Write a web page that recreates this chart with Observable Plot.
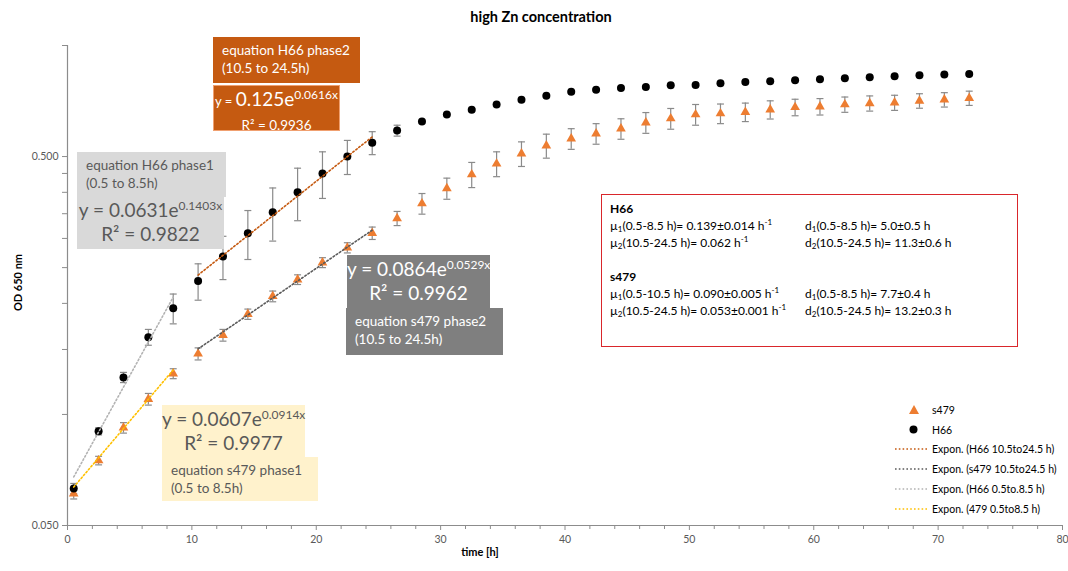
<!DOCTYPE html>
<html><head><meta charset="utf-8">
<script src="https://cdn.jsdelivr.net/npm/d3@7"></script>
<script src="https://cdn.jsdelivr.net/npm/@observablehq/plot@0.6"></script>
<style>
body{margin:0;background:#fff;font-family:Lato,"Open Sans",sans-serif;}
#wrap{position:relative;width:1068px;height:571px;overflow:hidden;}
#wrap > svg{position:absolute;left:0;top:0;}
.ov{position:absolute;box-sizing:border-box;white-space:nowrap;}
.small{font-size:13.5px;line-height:18px;padding:4px 0 0 9px;}
.eq{font-size:19px;line-height:24px;text-align:center;padding-top:2px;}
.eq sup{font-size:12px;vertical-align:7px;line-height:0;}
.red{border:1.5px solid #d9262b;font-size:12px;line-height:17px;color:#000;padding:5px 0 0 8px;}
.red table{border-collapse:collapse;}
.red td{padding:0;height:17px;}
.red sub{font-size:8px;vertical-align:-2px;line-height:0;}
.red sup{font-size:8px;vertical-align:5px;line-height:0;}
.leg{font-size:10.5px;color:#000;}
.leg div{height:19.8px;display:flex;align-items:center;}
.leg svg{display:block;flex:none;}
</style></head><body><div id="wrap"></div>
<script>
// ---- data ----
const times = [0.5,2.5,4.5,6.5,8.5,10.5,12.5,14.5,16.5,18.5,20.5,22.5,24.5,26.5,28.5,30.5,32.5,34.5,36.5,38.5,40.5,42.5,44.5,46.5,48.5,50.5,52.5,54.5,56.5,58.5,60.5,62.5,64.5,66.5,68.5,70.5,72.5];
const h66 = [0.063,0.090,0.126,0.162,0.194,0.230,0.268,0.310,0.353,0.400,0.450,0.500,0.545,0.588,0.622,0.650,0.670,0.692,0.713,0.731,0.749,0.759,0.767,0.772,0.780,0.782,0.790,0.796,0.800,0.805,0.810,0.815,0.820,0.825,0.830,0.835,0.837];
const h66Err = [0.002,0.002,0.004,0.008,0.018,0.026,0.036,0.047,0.058,0.065,0.065,0.053,0.039,0.020,0.005,0.004,0.004,0.004,0.004,0.004,0.004,0.004,0.004,0.004,0.004,0.004,0.004,0.004,0.004,0.004,0.004,0.004,0.004,0.004,0.004,0.004,0.004];
const s479 = [0.061,0.075,0.092,0.110,0.129,0.146,0.164,0.187,0.209,0.232,0.258,0.283,0.310,0.340,0.373,0.410,0.447,0.478,0.509,0.535,0.559,0.577,0.595,0.618,0.634,0.650,0.654,0.660,0.670,0.680,0.683,0.692,0.697,0.700,0.708,0.713,0.720];
const s479Err = [0.002,0.002,0.003,0.004,0.004,0.0055,0.006,0.006,0.007,0.007,0.008,0.009,0.012,0.015,0.024,0.027,0.035,0.037,0.039,0.040,0.036,0.037,0.038,0.040,0.041,0.042,0.040,0.038,0.038,0.035,0.035,0.033,0.033,0.033,0.032,0.032,0.032];

// exponential trendlines y = a*e^(b*x) as printed in the chart
const fitNames = ["Expon. (H66 10.5to24.5 h)","Expon. (s479 10.5to24.5 h)","Expon. (H66 0.5to.8.5 h)","Expon. (479 0.5to8.5 h)"];
const fitA = [0.125,0.0864,0.0631,0.0607];
const fitB = [0.0616,0.0529,0.1403,0.0914];
const fitFrom = [10.5,10.5,0.5,0.5];
const fitTo = [24.5,24.5,8.5,8.5];
const fitColors = ["#c55a11","#595959","#b3b3b3","#ffc000"];

const xMajor = [0,10,20,30,40,50,60,70,80];
const xMinor = [2,4,6,8,12,14,16,18,22,24,26,28,32,34,36,38,42,44,46,48,52,54,56,58,62,64,66,68,72,74,76,78];
const yMajor = [0.05,0.5];
const yMinor = [0.1,0.15,0.2,0.25,0.3,0.35,0.4,0.45,1.0];

// ---- tables ----
const rows = [];
times.forEach((t,i)=>{
  rows.push({series:"H66", t, v:h66[i], e:h66Err[i]});
  rows.push({series:"s479", t, v:s479[i], e:s479Err[i]});
});
const fitRows = [];
fitA.forEach((a,k)=>{
  const n = 8;
  for(let j=0;j<=n;j++){
    const x = fitFrom[k] + (fitTo[k]-fitFrom[k])*j/n;
    fitRows.push({k, x, y:a*Math.exp(fitB[k]*x)});
  }
});

const axisCol = "#8c8c8c";
const chart = Plot.plot({
  width:1068, height:571,
  marginLeft:67, marginRight:6, marginTop:45, marginBottom:46,
  style:{fontFamily:"Lato, 'Open Sans', sans-serif", fontSize:"10.5px", color:"#595959", background:"transparent", overflow:"visible"},
  x:{domain:[0,80]},
  y:{type:"log", domain:[0.05,1]},
  marks:[
    Plot.axisX({ticks:xMinor, tickSize:4, tickFormat:()=>"", label:null, stroke:axisCol}),
    Plot.axisX({ticks:xMajor, tickSize:5, tickPadding:5, label:null, stroke:axisCol}),
    Plot.axisY({ticks:yMinor, tickSize:5, tickFormat:()=>"", label:null, stroke:axisCol}),
    Plot.axisY({ticks:yMajor, tickSize:5, tickPadding:4, tickFormat:d3.format(".3f"), label:null, stroke:axisCol}),
    Plot.ruleX([0], {stroke:axisCol, strokeWidth:1.2}),
    Plot.ruleY([0.05], {stroke:axisCol, strokeWidth:1.2}),
    Plot.ruleX(rows, {x:"t", y1:d=>d.v-d.e, y2:d=>d.v+d.e, stroke:"#8a8a8a", strokeWidth:1.2}),
    Plot.link(rows, {x1:d=>d.t-0.28, x2:d=>d.t+0.28, y1:d=>d.v+d.e, y2:d=>d.v+d.e, stroke:"#8a8a8a", strokeWidth:1.2}),
    Plot.link(rows, {x1:d=>d.t-0.28, x2:d=>d.t+0.28, y1:d=>d.v-d.e, y2:d=>d.v-d.e, stroke:"#8a8a8a", strokeWidth:1.2}),
    Plot.dot(rows.filter(d=>d.series==="s479"), {x:"t", y:"v", symbol:"triangle", r:3.6, fill:"#ed7d31", stroke:"none"}),
    Plot.dot(rows.filter(d=>d.series==="H66"), {x:"t", y:"v", r:4, fill:"#000", stroke:"none"}),
    Plot.line(fitRows, {x:"x", y:"y", z:"k", stroke:d=>fitColors[d.k], strokeWidth:1.6, strokeDasharray:"1.6,2.2"})
  ]
});
const wrap = document.getElementById("wrap");
wrap.appendChild(chart);

function add(html, style, cls){
  const d = document.createElement("div");
  d.className = "ov " + (cls||"");
  d.innerHTML = html;
  Object.assign(d.style, style);
  wrap.appendChild(d);
  return d;
}
// titles
add("high Zn concentration", {left:"0px", top:"8px", width:"1082px", textAlign:"center", fontWeight:"700", fontSize:"14.5px", color:"#000"});
add("time [h]", {left:"380px", top:"545px", width:"200px", textAlign:"center", fontWeight:"700", fontSize:"11px", color:"#000"});
add("OD 650 nm", {left:"-33px", top:"276px", width:"100px", textAlign:"center", fontWeight:"700", fontSize:"11px", color:"#000", transform:"rotate(-90deg)"});

// H66 phase2 boxes
add("equation H66 phase2<br>(10.5 to 24.5h)", {left:"213px", top:"37px", width:"147px", height:"46px", background:"#c55a11", color:"#fff"}, "small");
add("<span style='font-size:13px'>y = </span>0.125e<sup>0.0616x</sup><br><span style='font-size:13.5px'>R² = 0.9936</span>", {left:"213px", top:"85px", width:"127px", height:"46px", background:"#c55a11", color:"#fff", border:"1px solid #f0a070", lineHeight:"21px"}, "eq");
// H66 phase1 boxes
add("equation H66 phase1<br>(0.5 to 8.5h)", {left:"77px", top:"152px", width:"149px", height:"45px", background:"#d9d9d9", color:"#595959"}, "small");
add("y = 0.0631e<sup>0.1403x</sup><br>R² = 0.9822", {left:"77px", top:"196px", width:"147px", height:"53px", background:"#d9d9d9", color:"#595959"}, "eq");
// s479 phase2 boxes
add("y = 0.0864e<sup>0.0529x</sup><br>R² = 0.9962", {left:"347px", top:"255px", width:"143px", height:"54px", background:"#7f7f7f", color:"#fff"}, "eq");
add("equation s479 phase2<br>(10.5 to 24.5h)", {left:"346px", top:"308px", width:"157px", height:"47px", background:"#7f7f7f", color:"#fff"}, "small");
// s479 phase1 boxes
add("y = 0.0607e<sup>0.0914x</sup><br>R² = 0.9977", {left:"162px", top:"405px", width:"143px", height:"53px", background:"#fff2cc", color:"#595959"}, "eq");
add("equation s479 phase1<br>(0.5 to 8.5h)", {left:"162px", top:"457px", width:"156px", height:"44px", background:"#fff2cc", color:"#595959"}, "small");

// red box
add(`<table>
<tr><td colspan="2"><b>H66</b></td></tr>
<tr><td style="width:195px">µ<sub>1</sub>(0.5-8.5 h)= 0.139±0.014 h<sup>-1</sup></td><td>d<sub>1</sub>(0.5-8.5 h)= 5.0±0.5 h</td></tr>
<tr><td>µ<sub>2</sub>(10.5-24.5 h)= 0.062 h<sup>-1</sup></td><td>d<sub>2</sub>(10.5-24.5 h)= 11.3±0.6 h</td></tr>
<tr><td colspan="2">&nbsp;</td></tr>
<tr><td colspan="2"><b>s479</b></td></tr>
<tr><td>µ<sub>1</sub>(0.5-10.5 h)= 0.090±0.005 h<sup>-1</sup></td><td>d<sub>1</sub>(0.5-8.5 h)= 7.7±0.4 h</td></tr>
<tr><td>µ<sub>2</sub>(10.5-24.5 h)= 0.053±0.001 h<sup>-1</sup></td><td>d<sub>2</sub>(10.5-24.5 h)= 13.2±0.3 h</td></tr>
</table>`, {left:"601px", top:"194px", width:"417px", height:"153px", background:"#fff"}, "red");

// legend
let leg = `<div><span style="width:37px;display:inline-flex;justify-content:center;flex:none"><svg width="10" height="9"><path d="M5 0 L10 9 L0 9Z" fill="#ed7d31"/></svg></span>s479</div>`;
leg += `<div><span style="width:37px;display:inline-flex;justify-content:center;flex:none"><svg width="9" height="9"><circle cx="4.5" cy="4.5" r="4" fill="#000"/></svg></span>H66</div>`;
fitNames.forEach((n,k)=>{
  leg += `<div><svg width="37" height="4"><line x1="0" x2="33" y1="2" y2="2" stroke="${fitColors[k]}" stroke-width="1.6" stroke-dasharray="1.6,2.2"/></svg>${n}</div>`;
});
add(leg, {left:"895px", top:"400px"}, "leg");
</script>
</body></html>
